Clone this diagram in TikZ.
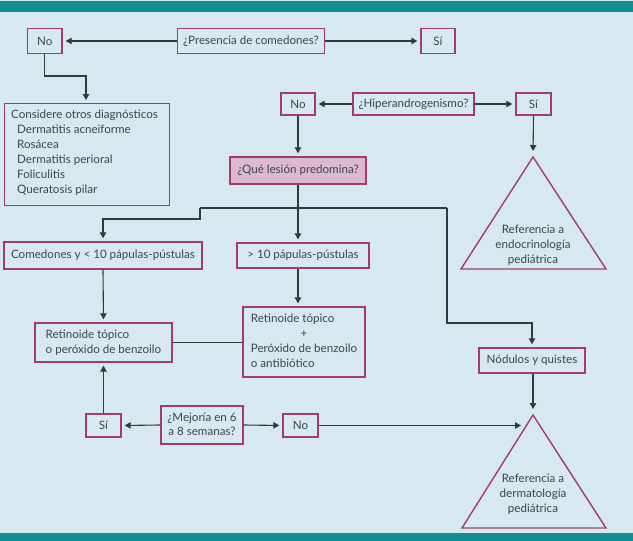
\documentclass[tikz,border=0pt]{standalone}
\usepackage{fontspec}
\setmainfont{Lato}
\usetikzlibrary{arrows.meta,calc}
\definecolor{bgc}{HTML}{D6E9EE}
\definecolor{teal1}{HTML}{138E94}
\definecolor{bord}{HTML}{A53A6C}
\definecolor{ink}{HTML}{3A474C}
\definecolor{lnc}{HTML}{2F3B40}
\definecolor{pinkf}{HTML}{DCB9CD}
\begin{document}
\begin{tikzpicture}[x=1pt,y=-1pt,
  box/.style={draw=bord,line width=1.4pt,rectangle,inner sep=0pt,text=ink,font=\fontsize{11.6}{15}\selectfont,align=center},
  tri/.style={draw=bord,line width=1.4pt,line join=miter},
  trit/.style={text=ink,font=\fontsize{11.6}{15}\selectfont,align=center,inner sep=0pt},
  arr/.style={draw=lnc,line width=1.1pt,-{Triangle[length=6pt,width=6.5pt]},shorten >=3pt},
  ln/.style={draw=lnc,line width=1.1pt}]
\useasboundingbox (0,0) rectangle (633,541);
\fill[bgc] (0,0) rectangle (633,541);
\fill[teal1] (0,1) rectangle (633,12);
\fill[teal1] (0,533) rectangle (633,541);
% nodes
\node[box,minimum width=34.5pt,minimum height=25pt] (no1) at (44.75,41) {No};
\node[box,minimum width=147pt,minimum height=25pt] (pres) at (251,41) {¿Presencia de comedones?};
\node[box,minimum width=34pt,minimum height=25pt] (si1) at (438,41) {Sí};
\node[box,minimum width=165pt,minimum height=102pt,align=left,anchor=north west] (cons) at (4,103) {};
\node[text=ink,font=\fontsize{11.6}{15}\selectfont,align=left,anchor=north west,inner sep=0pt] (consT) at (11,110)
 {Considere otros diagnósticos\\
 \hspace*{6pt}Dermatitis acneiforme\\
 \hspace*{6pt}Rosácea\\
 \hspace*{6pt}Dermatitis perioral\\
 \hspace*{6pt}Foliculitis\\
 \hspace*{6pt}Queratosis pilar};
\node[box,minimum width=34pt,minimum height=22pt] (no2) at (298,104) {No};
\node[box,minimum width=121pt,minimum height=22pt] (hip) at (413.5,104) {¿Hiperandrogenismo?};
\node[box,minimum width=35pt,minimum height=22pt] (si2) at (533.5,104) {Sí};
\node[box,fill=pinkf,minimum width=136pt,minimum height=27pt] (que) at (298,170.5) {¿Qué lesión predomina?};
\coordinate (t1a) at (533,157);
\coordinate (t1l) at (461,269);
\coordinate (t1r) at (606,269);
\draw[tri] (t1a) -- (t1l) -- (t1r) -- cycle;
\node[trit] (t1t) at (533,245) {Referencia a\\endocrinología\\pediátrica};
\node[box,minimum width=198pt,minimum height=27pt] (com) at (103,255.5) {Comedones y < 10 pápulas-pústulas};
\node[box,minimum width=132pt,minimum height=25pt] (gt) at (303,255.5) {> 10 pápulas-pústulas};
\node[box,minimum width=137pt,minimum height=39pt,align=left] (retl) at (103.5,342.5) {Retinoide tópico\\o peróxido de benzoilo};
\node[box,minimum width=122pt,minimum height=70pt,align=left] (retr) at (304,342)
 {\begin{tabular}{@{}l@{}}Retinoide tópico\\\multicolumn{1}{@{}c@{}}{+}\\Peróxido de benzoilo\\o antibiótico\end{tabular}};
\node[box,minimum width=106pt,minimum height=25pt] (nod) at (532,360.5) {Nódulos y quistes};
\coordinate (t2a) at (533,415);
\coordinate (t2l) at (462,528);
\coordinate (t2r) at (606,528);
\draw[tri] (t2a) -- (t2l) -- (t2r) -- cycle;
\node[trit] (t2t) at (533,494) {Referencia a\\dermatología\\pediátrica};
\node[box,minimum width=35pt,minimum height=23pt] (si3) at (103.5,425.5) {Sí};
\node[box,minimum width=82pt,minimum height=38pt] (mej) at (202,425) {\begin{tabular}{@{}c@{}}¿Mejoría en 6\\[-1pt]a 8 semanas?\end{tabular}};
\node[box,minimum width=35pt,minimum height=23pt] (no3) at (300.5,425.5) {No};
% connectors
\draw[arr] (pres.west) -- (no1.east);
\draw[arr] (pres.east) -- (si1.west);
\coordinate (k1) at (86,76);
\draw[arr] (no1.south) |- (k1) -- (k1 |- cons.north);
\draw[arr] (hip.west) -- (no2.east);
\draw[arr] (hip.east) -- (si2.west);
\draw[arr] (no2.south) -- (que.north);
\draw[arr,shorten >=6pt] (si2.south) -- (t1a);
\coordinate (s1) at (200,208);
\coordinate (s2) at (200,219);
\coordinate (r1) at (447,208);
\coordinate (r2) at (447,323);
\draw[arr] (que.south) -- (que.south |- gt.north);
\draw[ln] (s1) -- (r1);
\draw[arr] (s1) -- (s2) -- (com.north |- s2) -- (com.north);
\draw[arr] (r1) -- (r2) -- (nod.north |- r2) -- (nod.north);
\draw[arr] (com.south) -- (retl.north);
\draw[arr] (gt.south -| que.south) -- (retr.north -| que.south);
\draw[ln] (retl.east) -- (retl.east -| retr.west);
\draw[arr,shorten >=6pt] (nod.south -| t2a) -- (t2a);
\draw[arr] (mej.west) -- (si3.east);
\draw[arr] (mej.east) -- (no3.west);
\coordinate (t2in) at (524,425.5);
\draw[arr] (no3.east) -- (t2in);
\draw[arr] (si3.north) -- (retl.south -| si3.north);
\end{tikzpicture}
\end{document}
